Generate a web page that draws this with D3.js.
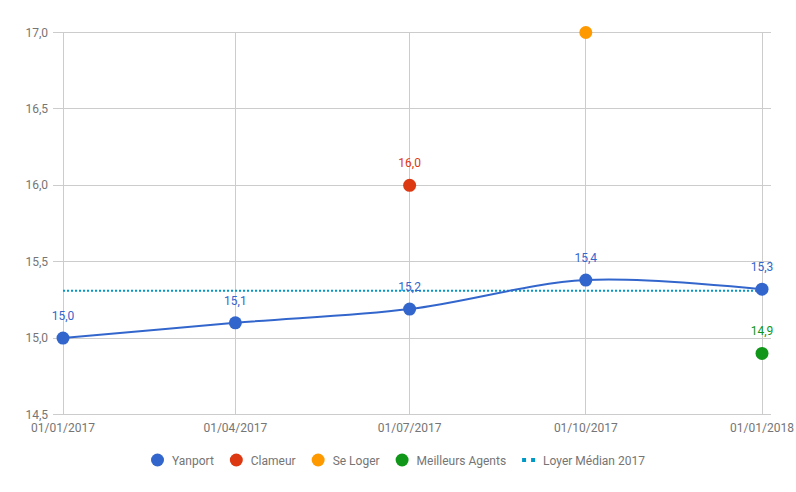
<!DOCTYPE html>
<html><head><meta charset="utf-8">
<script src="https://cdn.jsdelivr.net/npm/d3@7"></script>
<style>body{margin:0;background:#fff;}text{font-family:Roboto,Arial,sans-serif;}</style>
</head><body>
<svg id="c" width="796" height="492"></svg>
<script>
const dates = ["2017-01-01","2017-04-01","2017-07-01","2017-10-01","2018-01-01"];
const yanport = [15.0, 15.1, 15.19, 15.38, 15.32];
const clameur = [null, null, 16.0, null, null];
const seLoger = [null, null, null, 17.0, null];
const meilleursAgents = [null, null, null, null, 14.9];
const loyerMedian = [15.31, 15.31, 15.31, 15.31, 15.31];
const yTicks = [14.5, 15.0, 15.5, 16.0, 16.5, 17.0];
const seriesNames = ["Yanport","Clameur","Se Loger","Meilleurs Agents","Loyer Médian 2017"];
const colors = ["#3366cc","#dc3912","#ff9900","#109618","#0099c6"];

const parse = d3.timeParse("%Y-%m-%d");
const X = dates.map(parse);
const svg = d3.select("#c");
const x = d3.scaleTime().domain([X[0], X[X.length-1]]).range([63, 762]);
const y = d3.scaleLinear().domain([14.5, 17]).range([414.5, 32.5]);
const fmt = v => d3.format(".1f")(v).replace(".", ",");
const dfmt = d3.timeFormat("%d/%m/%Y");

// grid
const g = svg.append("g");
g.selectAll("line.h").data(yTicks).join("line")
  .attr("x1", 53).attr("x2", 771).attr("y1", d => y(d)).attr("y2", d => y(d))
  .attr("stroke", "#cccccc").attr("stroke-width", 1).attr("shape-rendering","crispEdges");
g.selectAll("line.v").data(X).join("line")
  .attr("x1", d => x(d)).attr("x2", d => x(d)).attr("y1", y(17)).attr("y2", y(14.5))
  .attr("stroke", "#cccccc").attr("stroke-width", 1).attr("shape-rendering","crispEdges");
g.selectAll("text.yl").data(yTicks).join("text")
  .attr("x", 48).attr("y", d => y(d) + 4).attr("text-anchor", "end")
  .attr("font-size", 12).attr("fill", "#757575").text(fmt);
g.selectAll("text.xl").data(X).join("text")
  .attr("x", d => x(d)).attr("y", 432).attr("text-anchor", "middle")
  .attr("font-size", 12).attr("fill", "#757575").text(dfmt);

// median dotted line
const medPts = X.map((d,i) => [d, loyerMedian[i]]);
svg.append("path").datum(medPts)
  .attr("d", d3.line().x(d => x(d[0])).y(d => y(d[1])))
  .attr("fill", "none").attr("stroke", colors[4]).attr("stroke-width", 2)
  .attr("stroke-dasharray", "2,2");

// Yanport curve
const yPts = X.map((d,i) => [d, yanport[i]]);
svg.append("path").datum(yPts)
  .attr("d", d3.line().x(d => x(d[0])).y(d => y(d[1])).curve(d3.curveCatmullRom.alpha(0.5)))
  .attr("fill", "none").attr("stroke", colors[0]).attr("stroke-width", 2);

const pointSeries = [yanport, clameur, seLoger, meilleursAgents];
pointSeries.forEach((arr, si) => {
  const pts = X.map((d,i) => [d, arr[i]]).filter(p => p[1] != null);
  svg.append("g").selectAll("circle").data(pts).join("circle")
    .attr("cx", d => x(d[0])).attr("cy", d => y(d[1])).attr("r", 6.5)
    .attr("fill", colors[si]);
  svg.append("g").selectAll("text").data(pts.filter(p => y(p[1]) - 17 > 20)).join("text")
    .attr("x", d => x(d[0])).attr("y", d => y(d[1]) - 18).attr("text-anchor", "middle")
    .attr("font-size", 12).attr("fill", colors[si]).text(d => fmt(d[1]));
});

// legend
const lg = svg.append("g");
const items = [];
seriesNames.forEach((n, i) => {
  const it = lg.append("g");
  if (i < 4) {
    it.append("circle").attr("cx", 6.5).attr("cy", 0).attr("r", 6.5).attr("fill", colors[i]);
  } else {
    it.append("rect").attr("x", 0).attr("y", -2).attr("width", 4).attr("height", 4).attr("fill", colors[i]);
    it.append("rect").attr("x", 9).attr("y", -2).attr("width", 4).attr("height", 4).attr("fill", colors[i]);
  }
  const t = it.append("text").attr("x", 21).attr("y", 4.5).attr("font-size", 12)
    .attr("fill", "#757575").text(n);
  const w = 21 + t.node().getComputedTextLength();
  items.push({it, w});
});
let start = 151;
items.forEach(d => { d.it.attr("transform", `translate(${start},460)`); start += d.w + 16; });
</script>
</body></html>
